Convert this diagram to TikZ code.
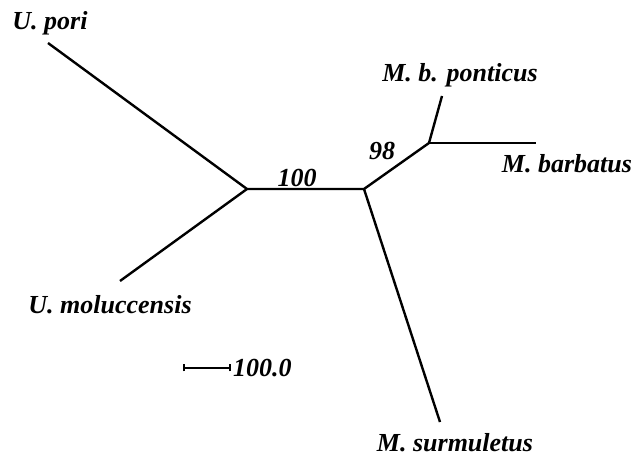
\documentclass[tikz,border=0pt]{standalone}
\usepackage{fontspec}
\setmainfont{Liberation Serif}
\begin{document}
\begin{tikzpicture}[x=1pt,y=-1pt,
  branch/.style={line width=2.4pt, black},
  taxon/.style={font=\fontsize{26}{30}\selectfont\bfseries\itshape, inner sep=0pt},
  support/.style={font=\fontsize{26}{30}\selectfont\bfseries\itshape, inner sep=0pt}]
\useasboundingbox (0,0) rectangle (638,457);
\coordinate (A) at (247,189);
\coordinate (B) at (364,189);
\coordinate (C) at (429,143);
\coordinate (pori) at (48,43);
\coordinate (mol) at (120,281);
\coordinate (pon) at (442,96);
\coordinate (bar) at (536,143);
\coordinate (sur) at (440,422);
\draw[branch] (pori) -- (A) -- (mol);
\draw[branch] (A) -- (B) -- (C) -- (pon);
\draw[branch] (C) -- (bar);
\draw[branch] (B) -- (sur);
\node[taxon] (tpori) at (50,23) {U. pori};
\node[taxon] (tmol) at (110,305) {U. moluccensis};
\node[taxon] (tpon) at (460,75) {M. b. ponticus};
\node[taxon] (tbar) at (567,164) {M. barbatus};
\node[taxon] (tsur) at (455,443) {M. surmuletus};
\node[support] (s100) at (297,178) {100};
\node[support] (s98) at (382,151) {98};
\coordinate (s1) at (184,368);
\coordinate (s2) at (230,368);
\draw[line width=1.6pt] (s1) -- (s2);
\draw[line width=1.2pt] ([yshift=-3.5]s1) -- ([yshift=3.5]s1);
\draw[line width=1.2pt] ([yshift=-3.5]s2) -- ([yshift=3.5]s2);
\node[support, anchor=west] (scale) at (233,368) {100.0};
\end{tikzpicture}
\end{document}
